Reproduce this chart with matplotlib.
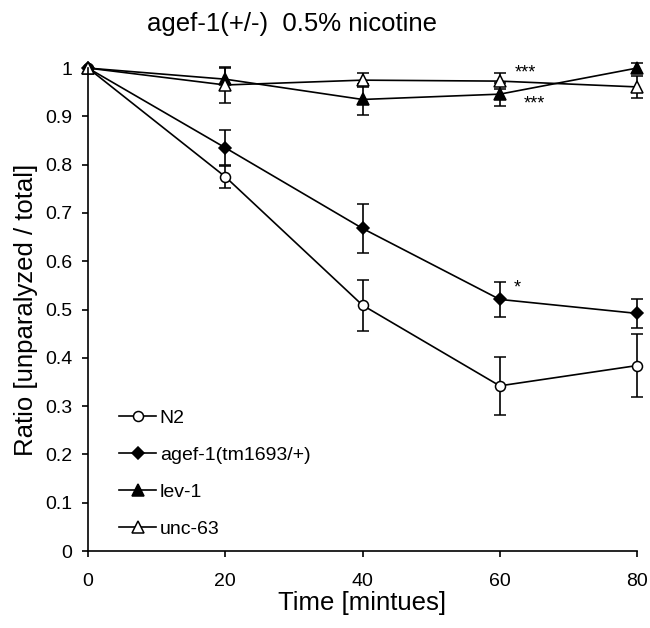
import matplotlib.pyplot as plt

plt.rcParams['font.family'] = ['Liberation Sans', 'DejaVu Sans']

time = [0, 20, 40, 60, 80]

n2 = [1.0, 0.775, 0.509, 0.342, 0.384]
n2_err = [0, 0.023, 0.053, 0.060, 0.066]

agef1 = [1.0, 0.835, 0.668, 0.521, 0.492]
agef1_err = [0, 0.036, 0.050, 0.036, 0.030]

lev1 = [1.0, 0.977, 0.935, 0.946, 1.0]
lev1_err = [0, 0.023, 0.032, 0.024, 0.010]

unc63 = [1.0, 0.965, 0.975, 0.973, 0.961]
unc63_err = [0, 0.037, 0.015, 0.017, 0.022]

fig = plt.figure(figsize=(6.5, 6.28), dpi=100)
ax = fig.add_axes([0.1354, 0.1226, 0.8446, 0.769])

series = [
    (n2, n2_err, 'o', 7.2, 'white', 'N2'),
    (agef1, agef1_err, 'D', 5.8, 'black', 'agef-1(tm1693/+)'),
    (lev1, lev1_err, '^', 8, 'black', 'lev-1'),
    (unc63, unc63_err, '^', 8, 'white', 'unc-63'),
]

for vals, err, mk, ms, fc, lab in series:
    ax.errorbar(time, vals, yerr=err, color='black', marker=mk, markersize=ms,
                markerfacecolor=fc, markeredgecolor='black', markeredgewidth=1.1,
                linewidth=1.2, elinewidth=1.2, capsize=4, capthick=1.2,
                label=lab, clip_on=False)

# significance marks
ax.text(63.7, 0.99, '***', fontsize=13, ha='center', va='center')
ax.text(65.0, 0.925, '***', fontsize=13, ha='center', va='center')
ax.text(62.6, 0.545, '*', fontsize=13, ha='center', va='center')

ax.set_xlim(0, 80)
ax.set_ylim(0, 1)
ax.set_xticks([0, 20, 40, 60, 80])
ax.set_yticks([0, 0.1, 0.2, 0.3, 0.4, 0.5, 0.6, 0.7, 0.8, 0.9, 1.0])
ax.set_yticklabels(['0', '0.1', '0.2', '0.3', '0.4', '0.5', '0.6', '0.7', '0.8', '0.9', '1'])
ax.tick_params(direction='out', length=4.3, width=1.2, labelsize=14)
ax.tick_params(axis='x', pad=11.5)
ax.tick_params(axis='y', pad=7)
ax.spines['top'].set_visible(False)
ax.spines['right'].set_visible(False)
ax.spines['left'].set_linewidth(1.2)
ax.spines['bottom'].set_linewidth(1.2)

ax.set_xlabel('Time [mintues]', fontsize=18.5, labelpad=0.5)
ax.set_ylabel('Ratio [unparalyzed / total]', fontsize=18.5, labelpad=5)
fig.text(0.449, 0.9506, 'agef-1(+/-)  0.5% nicotine', fontsize=18.5, ha='center', va='baseline')

handles, labels = ax.get_legend_handles_labels()
handles = [h[0] for h in handles]
ax.legend(handles, labels, loc='lower left', bbox_to_anchor=(0.0565, 0.027), frameon=False,
          borderpad=0, borderaxespad=0, fontsize=14, handlelength=1.9,
          handletextpad=0.2, labelspacing=1.0)

plt.savefig('out.png', dpi=100)
